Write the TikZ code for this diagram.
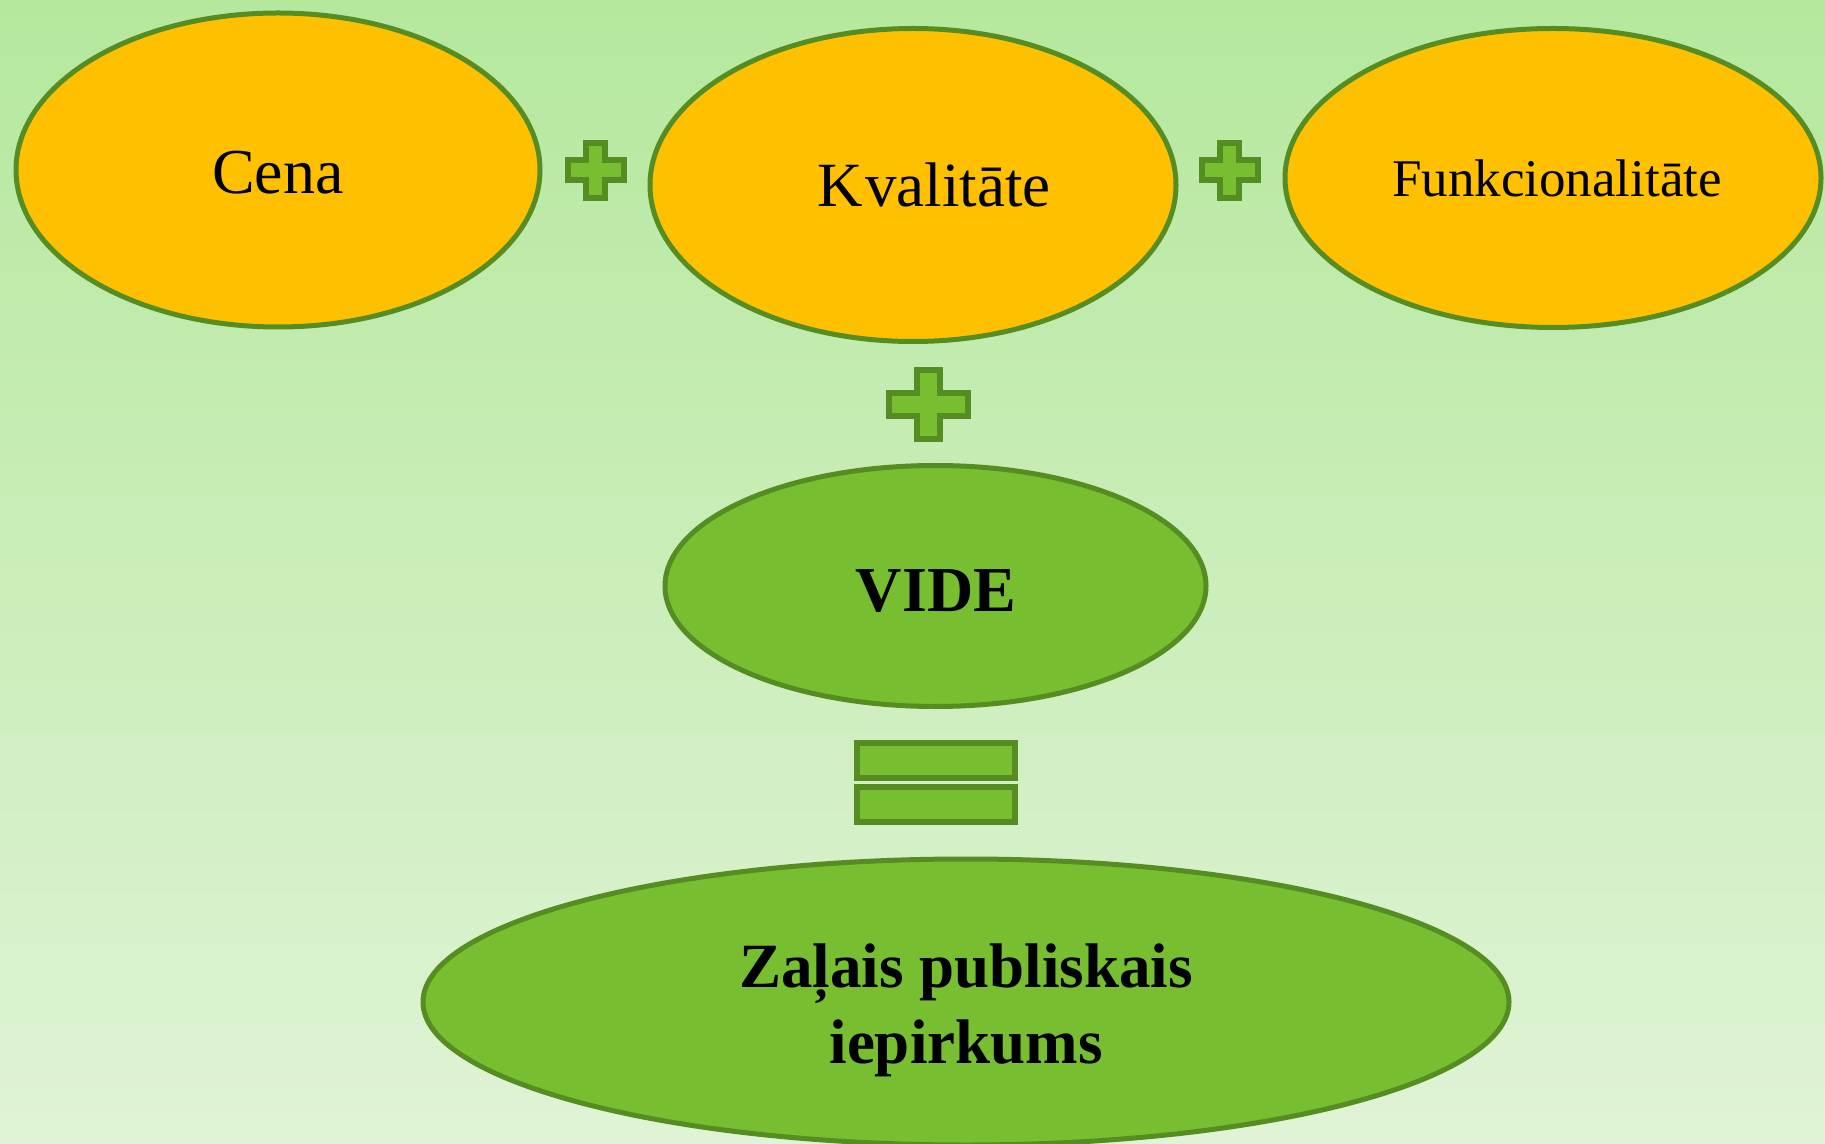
\documentclass[tikz,border=0pt]{standalone}
\usepackage{fontspec}
\setmainfont{Liberation Serif}
\usetikzlibrary{shapes.geometric}
\definecolor{bgtop}{HTML}{B5E89D}
\definecolor{bgbot}{HTML}{E0F3D6}
\definecolor{orfill}{HTML}{FFC000}
\definecolor{grfill}{HTML}{77BE30}
\definecolor{grline}{HTML}{558D22}
\tikzset{
  oval/.style={ellipse, draw=grline, line width=2pt, inner sep=0pt},
  orangeoval/.style={oval, fill=orfill},
  greenoval/.style={oval, fill=grfill},
  sign/.style={draw=grline, fill=grfill, line width=2.2pt, line join=miter},
  lbl/.style={anchor=base, inner sep=0pt, text=black},
}
\begin{document}
\begin{tikzpicture}[x=0.4pt,y=-0.4pt]
\useasboundingbox (0,0) rectangle (1825,1144);
\shade[top color=bgtop, bottom color=bgbot] (0,0) rectangle (1825,1144);

% ellipses
\node[orangeoval, minimum width=524*0.4pt, minimum height=314*0.4pt] (cena) at (278,170) {};
\node[orangeoval, minimum width=526*0.4pt, minimum height=313*0.4pt] (kval) at (913,185) {};
\node[orangeoval, minimum width=536*0.4pt, minimum height=299*0.4pt] (funk) at (1553,178) {};
\node[greenoval, minimum width=541*0.4pt, minimum height=241*0.4pt] (vide) at (935.5,586) {};
\node[greenoval, minimum width=1086*0.4pt, minimum height=286*0.4pt] (zpi) at (966,1002) {};

% labels
\node[lbl, font=\fontsize{25.6}{30}\selectfont] (tcena) at (278,194) {Cena};
\node[lbl, font=\fontsize{25.2}{30}\selectfont] (tkval) at (934,207) {K\kern1pt valitāte};
\node[lbl, font=\fontsize{21.2}{25}\selectfont] (tfunk) at (1557,197) {Funkcionalitāte};
\node[lbl, font=\bfseries\fontsize{25.6}{30}\selectfont] (tvide) at (936,611) {VIDE};
\node[lbl, font=\bfseries\fontsize{25.2}{30}\selectfont] (tzpi1) at (966,987) {Zaļais publiskais};
\node[lbl, font=\bfseries\fontsize{25.2}{30}\selectfont] (tzpi2) at (966,1063) {iepirkums};

% plus signs
\draw[sign] (586,143) -- (605,143) -- (605,160) -- (624,160) -- (624,180) -- (605,180) -- (605,198) -- (586,198) -- (586,180) -- (568,180) -- (568,160) -- (586,160) -- cycle;
\draw[sign] (1220,143) -- (1239,143) -- (1239,160) -- (1258,160) -- (1258,180) -- (1239,180) -- (1239,198) -- (1220,198) -- (1220,180) -- (1202,180) -- (1202,160) -- (1220,160) -- cycle;
\draw[sign] (917,370) -- (940,370) -- (940,393) -- (968,393) -- (968,416) -- (940,416) -- (940,439) -- (917,439) -- (917,416) -- (889,416) -- (889,393) -- (917,393) -- cycle;

% equals sign
\draw[sign] (857,743) rectangle (1015,778);
\draw[sign] (857,787) rectangle (1015,822);
\end{tikzpicture}
\end{document}
